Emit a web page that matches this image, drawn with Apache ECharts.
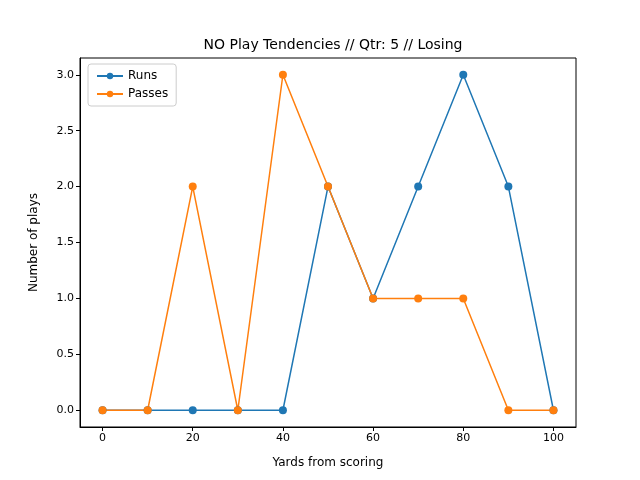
<!DOCTYPE html>
<html>
<head>
<meta charset="utf-8">
<script src="https://cdn.jsdelivr.net/npm/echarts@6/dist/echarts.min.js"></script>
<style>html,body{margin:0;padding:0;background:#fff}#main{width:640px;height:480px}</style>
</head>
<body>
<div id="main"></div>
<script>
var yards = [0, 10, 20, 30, 40, 50, 60, 70, 80, 90, 100];
var runs = [0, 0, 0, 0, 0, 2, 1, 2, 3, 2, 0];
var passes = [0, 0, 2, 0, 3, 2, 1, 1, 1, 0, 0];
var xTicks = [0, 20, 40, 60, 80, 100];
var yTicks = [0, 0.5, 1, 1.5, 2, 2.5, 3];

function pairs(vals) {
  return yards.map(function (x, i) { return [x, vals[i]]; });
}

var font = 'DejaVu Sans';
var myChart = echarts.init(document.getElementById('main'));
myChart.setOption({
  animation: false,
  textStyle: { fontFamily: font },
  title: {
    text: 'NO Play Tendencies // Qtr: 5 // Losing',
    left: 328, top: 33, textAlign: 'center',
    textStyle: { fontFamily: font, fontSize: 14, fontWeight: 'normal', color: '#000' }
  },
  legend: {
    left: 88, top: 64, orient: 'vertical', itemGap: 6,
    borderColor: '#ccc', borderWidth: 1, borderRadius: 3, padding: [6, 8],
    itemWidth: 26, itemHeight: 8,
    textStyle: { fontFamily: font, fontSize: 12, color: '#000' },
    data: ['Runs', 'Passes']
  },
  grid: {
    left: 80, right: 64, top: 58, bottom: 53,
    show: true, borderColor: '#000', borderWidth: 1
  },
  xAxis: {
    type: 'value', min: -5, max: 105,
    name: 'Yards from scoring', nameLocation: 'middle', nameGap: 30,
    nameTextStyle: { fontFamily: font, fontSize: 12, color: '#000' },
    axisLine: { show: true, onZero: false, lineStyle: { color: '#000' } },
    axisTick: { show: true, customValues: xTicks, length: 4, inside: false, lineStyle: { color: '#000' } },
    axisLabel: { customValues: xTicks, color: '#000', fontSize: 11, margin: 6 },
    splitLine: { show: false }
  },
  yAxis: {
    type: 'value', min: -0.15, max: 3.15,
    name: 'Number of plays', nameLocation: 'middle', nameGap: 40,
    nameTextStyle: { fontFamily: font, fontSize: 12, color: '#000' },
    axisLine: { show: true, onZero: false, lineStyle: { color: '#000' } },
    axisTick: { show: true, customValues: yTicks, length: 4, lineStyle: { color: '#000' } },
    axisLabel: {
      customValues: yTicks, color: '#000', fontSize: 11, margin: 6,
      formatter: function (v) { return v.toFixed(1); }
    },
    splitLine: { show: false }
  },
  series: [
    {
      name: 'Runs', type: 'line', data: pairs(runs), color: '#1f77b4',
      symbol: 'circle', symbolSize: 8, lineStyle: { width: 1.5 }
    },
    {
      name: 'Passes', type: 'line', data: pairs(passes), color: '#ff7f0e',
      symbol: 'circle', symbolSize: 8, lineStyle: { width: 1.5 }
    }
  ]
});
</script>
</body>
</html>
